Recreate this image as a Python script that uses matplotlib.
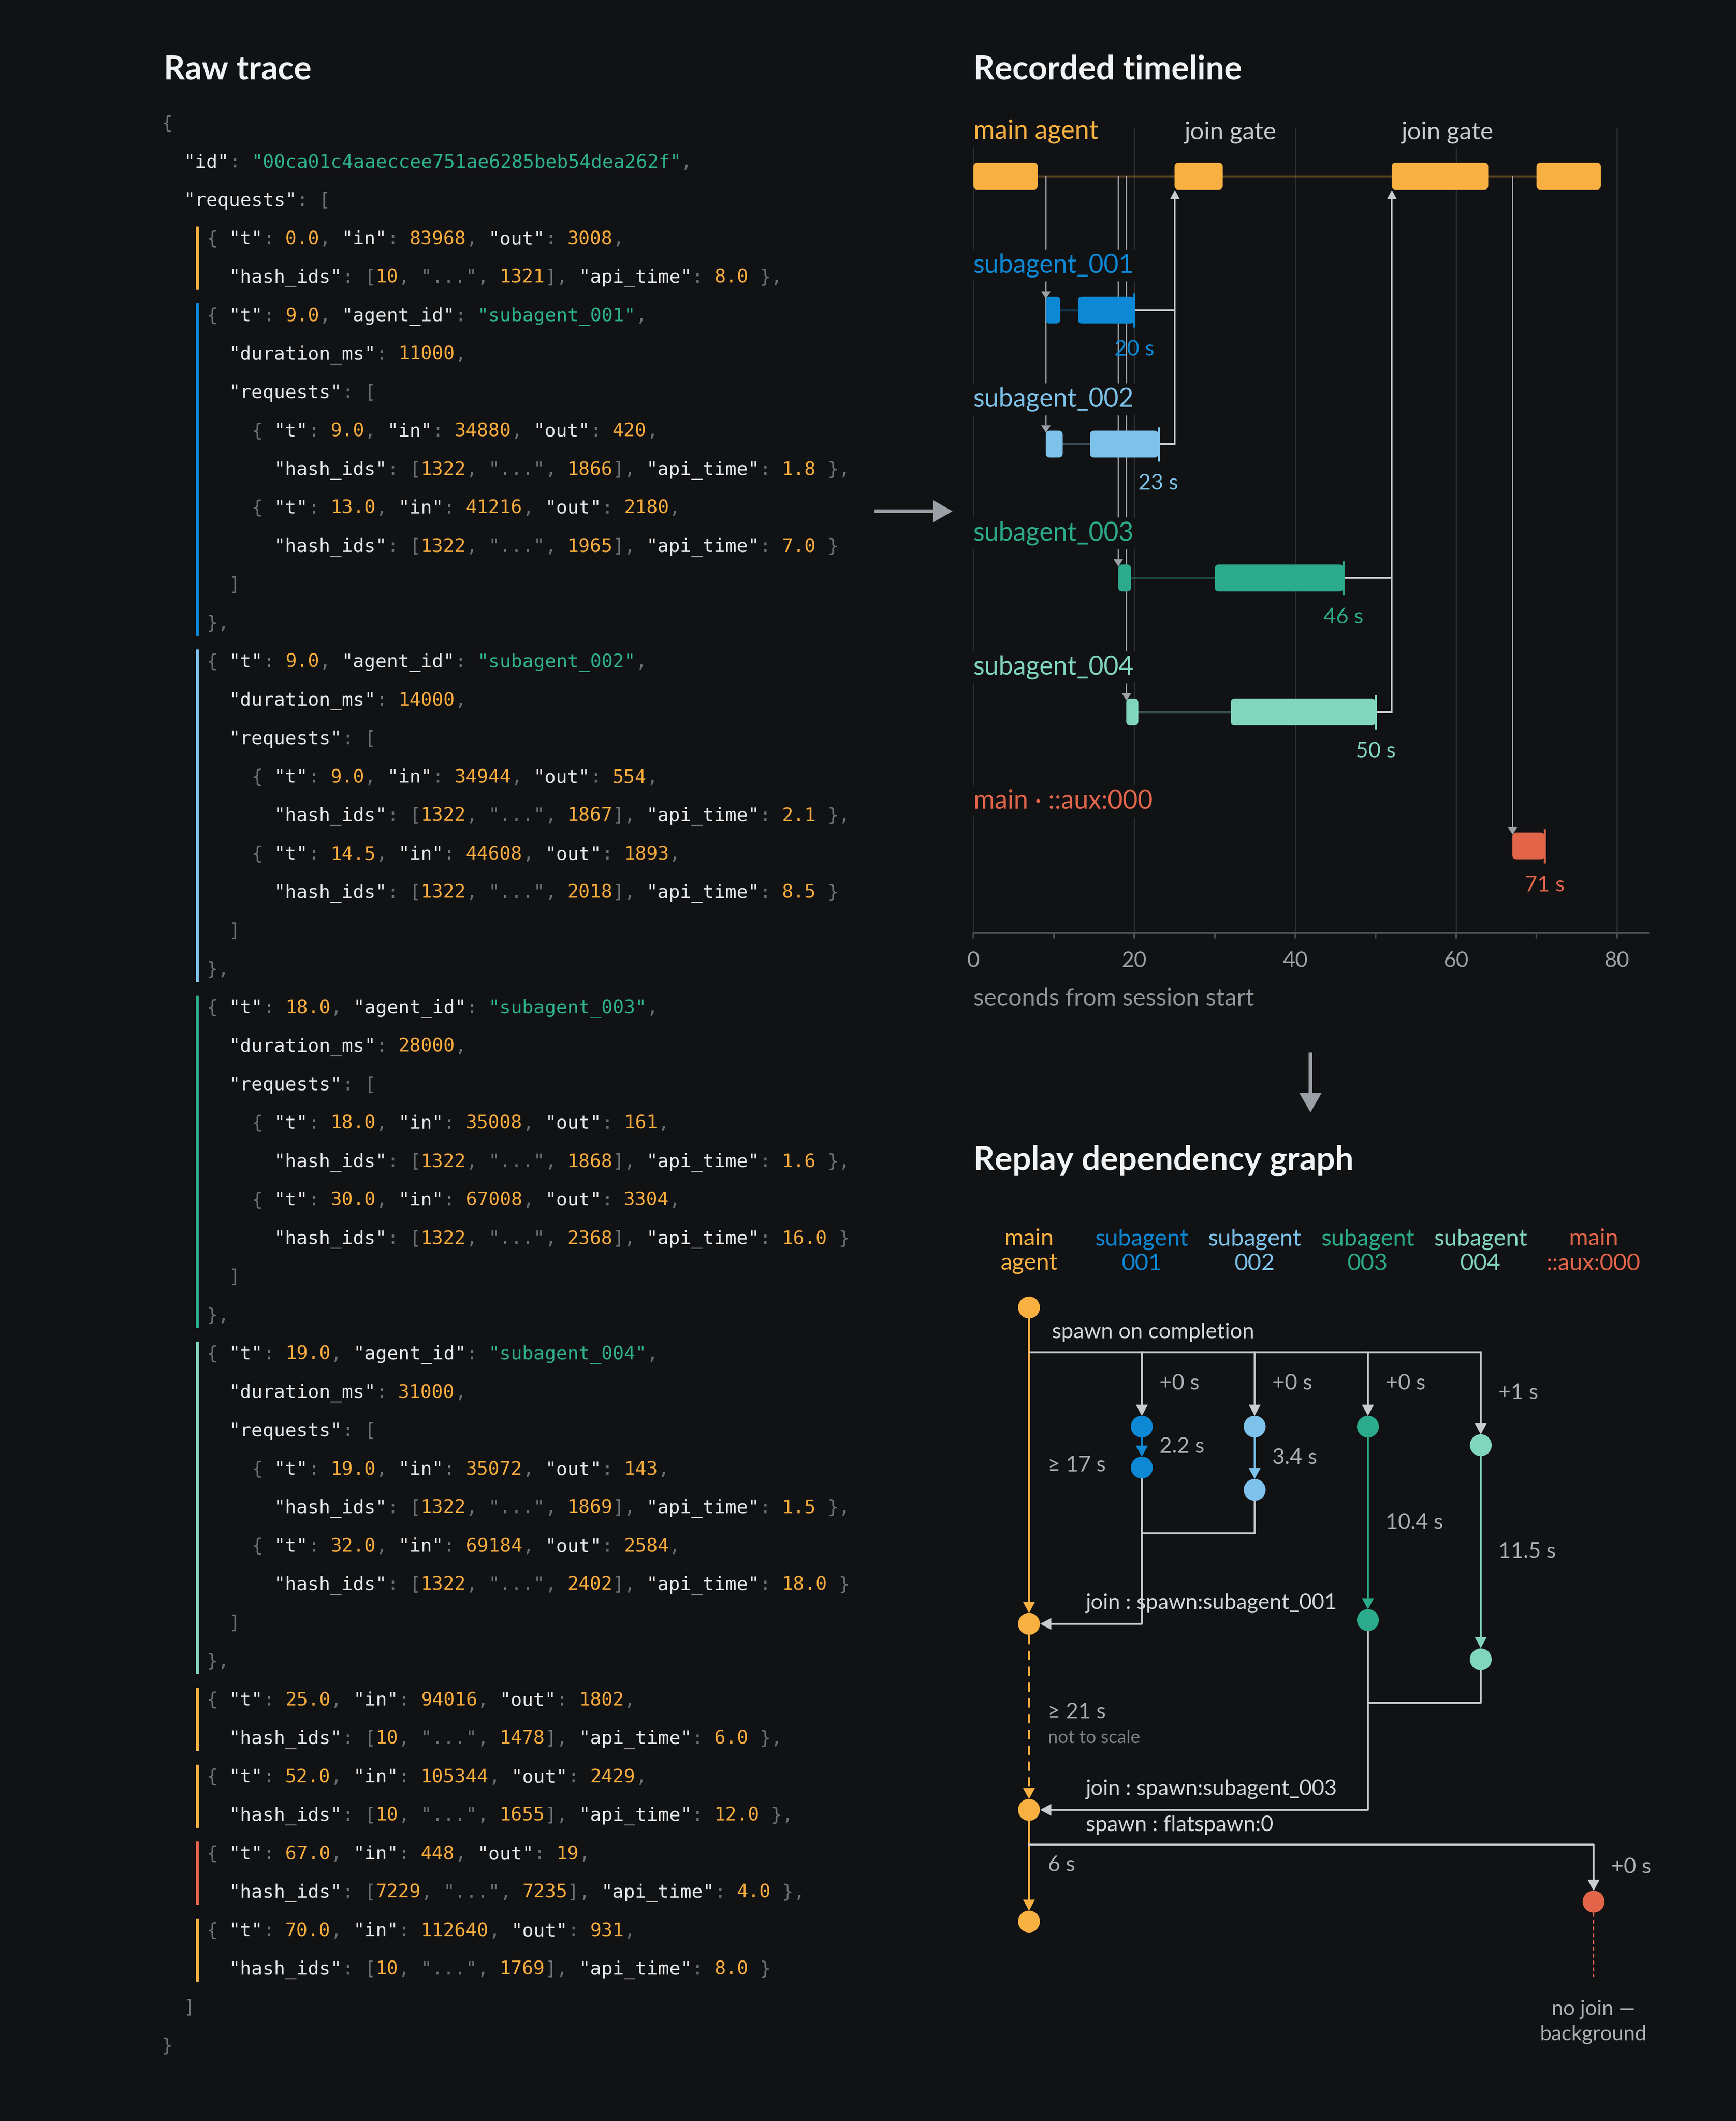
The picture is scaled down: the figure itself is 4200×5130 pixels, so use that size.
import re
import matplotlib
matplotlib.use("Agg")
import matplotlib.pyplot as plt
from matplotlib.patches import FancyBboxPatch, Rectangle

plt.rcParams['font.family'] = ['Lato', 'DejaVu Sans']

# ------------------------------------------------------------------ data
TRACE_ID = "00ca01c4aaeccee751ae6285beb54dea262f"

main_t = [0.0, 25.0, 52.0, 70.0]
main_in = [83968, 94016, 105344, 112640]
main_out = [3008, 1802, 2429, 931]
main_hash = [[10, 1321], [10, 1478], [10, 1655], [10, 1769]]
main_api = [8.0, 6.0, 12.0, 8.0]

sub_ids = ["subagent_001", "subagent_002", "subagent_003", "subagent_004"]
sub_t = [9.0, 9.0, 18.0, 19.0]
sub_duration_ms = [11000, 14000, 28000, 31000]
sub_req_t = [[9.0, 13.0], [9.0, 14.5], [18.0, 30.0], [19.0, 32.0]]
sub_req_in = [[34880, 41216], [34944, 44608], [35008, 67008], [35072, 69184]]
sub_req_out = [[420, 2180], [554, 1893], [161, 3304], [143, 2584]]
sub_req_hash = [[[1322, 1866], [1322, 1965]], [[1322, 1867], [1322, 2018]],
                [[1322, 1868], [1322, 2368]], [[1322, 1869], [1322, 2402]]]
sub_api = [[1.8, 7.0], [2.1, 8.5], [1.6, 16.0], [1.5, 18.0]]

aux_label = "main · ::aux:000"
aux_t = 67.0
aux_in = 448
aux_out = 19
aux_hash = [7229, 7235]
aux_api = 4.0

trace_order = [("main", 0), ("sub", 0), ("sub", 1), ("sub", 2), ("sub", 3),
               ("main", 1), ("main", 2), ("aux", 0), ("main", 3)]

join_gate_req = [1, 2]
join_groups = [[0, 1], [2, 3]]

timeline_ticks = [0, 20, 40, 60, 80]
timeline_minor = [10, 30, 50, 70]

graph_headers = [("main", "agent"), ("subagent", "001"), ("subagent", "002"),
                 ("subagent", "003"), ("subagent", "004"), ("main", "::aux:000")]
spawn_offsets = [0, 0, 0, 1]
sub_gaps = [2.2, 3.4, 10.4, 11.5]
main_gaps = [17, 21, 6]
main_gap_labels = ["≥ 17 s", "≥ 21 s", "6 s"]
aux_offset = 0

# ------------------------------------------------------------------ style
W, H, DPI = 4200, 5130, 300
PT = 72.0 / DPI

BG = '#111214'
C_MAIN = '#f8b041'
SUB_COLORS = ['#0c88d4', '#7cc2ea', '#2bab8b', '#80d5bd']
C_AUX = '#e2654a'
LANE_COLORS = [C_MAIN] + SUB_COLORS + [C_AUX]
TITLE_C = '#f1f2f3'
GRID_C = '#2b2e32'
AXIS_C = '#4a4e54'
TICK_C = '#9ba1a7'
SPAWN_C = '#9ca1a7'
JOIN_C = '#c8ccd1'
LABEL_C = '#d4d7da'
EDGE_C = '#a9aeb4'
DIM_C = '#7c8288'

K_KEY, K_PUNCT, K_NUM, K_STR = '#e4e6e8', '#6b7077', '#f6ab3c', '#2db08e'


def lw(px):
    return px * PT


def tri(direction, w, l):
    hw = (w / 2.0) / l
    if direction == 'down':
        v = [(0, 0), (-hw, 1), (hw, 1), (0, 0)]
    elif direction == 'up':
        v = [(0, 0), (-hw, -1), (hw, -1), (0, 0)]
    elif direction == 'left':
        v = [(0, 0), (1, -hw), (1, hw), (0, 0)]
    else:
        v = [(0, 0), (-1, -hw), (-1, hw), (0, 0)]
    return v


def head(axis, x, y, direction, w, l, color, z=6):
    axis.plot([x], [y], marker=tri(direction, w, l), ms=2 * l * PT, color=color,
              mew=0, ls='none', zorder=z, clip_on=False)


fig = plt.figure(figsize=(W / DPI, H / DPI), dpi=DPI, facecolor=BG)
ax = fig.add_axes([0, 0, 1, 1])
ax.set_xlim(0, W)
ax.set_ylim(H, 0)
ax.axis('off')
ax.set_facecolor('none')

# ------------------------------------------------------------------ titles
TITLE_KW = dict(fontsize=19.2, fontweight='bold', color=TITLE_C, ha='left', va='baseline')
ax.text(396, 192, "Raw trace", **TITLE_KW)
ax.text(2355, 192, "Recorded timeline", **TITLE_KW)
ax.text(2355, 2829, "Replay dependency graph", **TITLE_KW)

# ------------------------------------------------------------------ raw trace
lines = []
groups = []
lines.append((0, "{"))
lines.append((2, f'"id": "{TRACE_ID}",'))
lines.append((2, '"requests": ['))
for n, (kind, i) in enumerate(trace_order):
    last = n == len(trace_order) - 1
    start = len(lines)
    if kind in ("main", "aux"):
        if kind == "main":
            t, tin, tout, hs, api, col = main_t[i], main_in[i], main_out[i], main_hash[i], main_api[i], C_MAIN
        else:
            t, tin, tout, hs, api, col = aux_t, aux_in, aux_out, aux_hash, aux_api, C_AUX
        lines.append((4, f'{{ "t": {t:.1f}, "in": {tin}, "out": {tout},'))
        lines.append((6, f'"hash_ids": [{hs[0]}, "...", {hs[1]}], "api_time": {api:.1f} ' + ("}" if last else "},")))
    else:
        col = SUB_COLORS[i]
        lines.append((4, f'{{ "t": {sub_t[i]:.1f}, "agent_id": "{sub_ids[i]}",'))
        lines.append((6, f'"duration_ms": {sub_duration_ms[i]},'))
        lines.append((6, '"requests": ['))
        for j in range(len(sub_req_t[i])):
            end = "}," if j < len(sub_req_t[i]) - 1 else "}"
            lines.append((8, f'{{ "t": {sub_req_t[i][j]:.1f}, "in": {sub_req_in[i][j]}, "out": {sub_req_out[i][j]},'))
            hs = sub_req_hash[i][j]
            lines.append((10, f'"hash_ids": [{hs[0]}, "...", {hs[1]}], "api_time": {sub_api[i][j]:.1f} {end}'))
        lines.append((6, "]"))
        lines.append((4, "}" if last else "},"))
    groups.append((start, len(lines) - 1, col))
lines.append((2, "]"))
lines.append((0, "}"))

CODE_X0, CW, LINE0, LH, BASE_OFF = 390, 27.3, 296, 93.0, 16
TOKEN_RE = re.compile(r'"[^"]*"|\d+(?:\.\d+)?|[{}\[\]:,]|\S')

for li, (ind, txt) in enumerate(lines):
    yb = LINE0 + li * LH + BASE_OFF
    for m in TOKEN_RE.finditer(txt):
        tok = m.group(0)
        if tok.startswith('"'):
            if txt[m.end():].lstrip().startswith(':'):
                c = K_KEY
            elif tok == '"..."':
                c = K_PUNCT
            else:
                c = K_STR
        elif tok[0].isdigit():
            c = K_NUM
        else:
            c = K_PUNCT
        ax.text(CODE_X0 + (ind + m.start()) * CW, yb, tok, color=c, fontsize=10.9,
                family='DejaVu Sans Mono', ha='left', va='baseline')

for (a, b, col) in groups:
    ya = LINE0 + a * LH - 27
    yb = LINE0 + b * LH + 33
    ax.add_patch(Rectangle((474, ya), 7, yb - ya, color=col, lw=0))

# arrows between panels
ax.plot([2115, 2260], [1236, 1236], color='#9aa0a6', lw=lw(9), solid_capstyle='butt')
head(ax, 2304, 1236, 'right', 54, 47, '#9aa0a6')
ax.plot([3170, 3170], [2545, 2650], color='#9aa0a6', lw=lw(9), solid_capstyle='butt')
head(ax, 3170, 2690, 'down', 54, 47, '#9aa0a6')

# ------------------------------------------------------------------ timeline
PX_S = 19.4625
TL_L, TL_R, TL_T, TL_B = 2355, 3988, 310, 2256
ROW_PX, ROW0 = 324.0, 426.0
tax = fig.add_axes([TL_L / W, 1 - TL_B / H, (TL_R - TL_L) / W, (TL_B - TL_T) / H])
tax.set_facecolor('none')
tax.set_xlim(0, (TL_R - TL_L) / PX_S)
tax.set_ylim((TL_B - ROW0) / ROW_PX, (TL_T - ROW0) / ROW_PX)
for s in ('top', 'right', 'left'):
    tax.spines[s].set_visible(False)
tax.spines['bottom'].set_color(AXIS_C)
tax.spines['bottom'].set_linewidth(lw(4))
tax.set_xticks(timeline_ticks)
tax.set_xticks(timeline_minor, minor=True)
tax.tick_params(axis='x', which='both', direction='out', length=14 * PT, width=lw(4),
                color=AXIS_C, labelcolor=TICK_C, labelsize=12.5, pad=7.4)
tax.tick_params(axis='y', left=False, labelleft=False)
tax.set_axisbelow(True)
tax.grid(True, axis='x', which='major', color=GRID_C, lw=lw(3))
tax.set_xlabel("seconds from session start", loc='left', color='#8e949a', fontsize=14, labelpad=9.8)

BAR_H = 65.0 / ROW_PX
R_PX = 10.0
ASPECT = PX_S / ROW_PX
LBL_BOX = dict(boxstyle='round,pad=0.15,rounding_size=0.25', fc=BG, ec='none')


def bar(t0, dur, row, color):
    p = FancyBboxPatch((t0, row - BAR_H / 2), dur, BAR_H,
                       boxstyle=f"round,pad=0,rounding_size={R_PX / PX_S}",
                       mutation_aspect=ASPECT, fc=color, ec='none', zorder=3)
    tax.add_patch(p)


def rows_of(px):
    return px / ROW_PX


# main agent row
main_end = main_t[-1] + main_api[-1]
tax.plot([0, main_end], [0, 0], color=C_MAIN, alpha=0.33, lw=lw(5), zorder=1, solid_capstyle='butt')
for i in range(len(main_t)):
    bar(main_t[i], main_api[i], 0, C_MAIN)
tax.text(0, -rows_of(108), "main agent", color=C_MAIN, fontsize=15, ha='left', va='center',
         bbox=LBL_BOX, zorder=5)
for gi in join_gate_req:
    tax.text(main_t[gi] + 1.2, -rows_of(106), "join gate", color=JOIN_C, fontsize=14.2,
             ha='left', va='center', bbox=LBL_BOX, zorder=5)

SP_W, SP_L = 23, 18
for k in range(len(sub_ids)):
    row = k + 1
    col = SUB_COLORS[k]
    end = sub_t[k] + sub_duration_ms[k] / 1000.0
    tax.plot([sub_req_t[k][0], end], [row, row], color=col, alpha=0.33, lw=lw(5), zorder=1,
             solid_capstyle='butt')
    for j in range(len(sub_req_t[k])):
        bar(sub_req_t[k][j], sub_api[k][j], row, col)
    tax.plot([end, end], [row - rows_of(41.5), row + rows_of(41.5)], color=col, lw=lw(5),
             zorder=3.5, solid_capstyle='butt')
    tax.text(0, row - rows_of(108), sub_ids[k], color=col, fontsize=15, ha='left', va='center',
             bbox=LBL_BOX, zorder=5)
    tax.text(end, row + rows_of(95), f"{end:.0f} s", color=col, fontsize=12.5, ha='center',
             va='center', zorder=5)
    # spawn connector
    top = row - BAR_H / 2
    tax.plot([sub_t[k], sub_t[k]], [0, top - rows_of(SP_L - 2)], color=SPAWN_C, lw=lw(3), zorder=1.5)
    head(tax, sub_t[k], top + rows_of(4), 'down', SP_W, SP_L, SPAWN_C, z=4)

# aux row
arow = 5
aend = aux_t + aux_api
bar(aux_t, aux_api, arow, C_AUX)
tax.plot([aend, aend], [arow - rows_of(41.5), arow + rows_of(41.5)], color=C_AUX, lw=lw(5),
         zorder=3.5, solid_capstyle='butt')
tax.text(0, arow - rows_of(108), aux_label, color=C_AUX, fontsize=15, ha='left', va='center',
         bbox=LBL_BOX, zorder=5)
tax.text(aend, arow + rows_of(95), f"{aend:.0f} s", color=C_AUX, fontsize=12.5, ha='center',
         va='center', zorder=5)
atop = arow - BAR_H / 2
tax.plot([aux_t, aux_t], [0, atop - rows_of(SP_L - 2)], color=SPAWN_C, lw=lw(3), zorder=1.5)
head(tax, aux_t, atop + rows_of(4), 'down', SP_W, SP_L, SPAWN_C, z=4)

# joins
JN_W, JN_L = 23, 22
for gi, grp in zip(join_gate_req, join_groups):
    jx = main_t[gi]
    for k in grp:
        end = sub_t[k] + sub_duration_ms[k] / 1000.0
        tax.plot([end, jx], [k + 1, k + 1], color=JOIN_C, lw=lw(4), zorder=1.6, solid_capstyle='butt')
    low = max(grp) + 1
    tip = BAR_H / 2
    tax.plot([jx, jx], [low, tip + rows_of(JN_L - 2)], color=JOIN_C, lw=lw(4), zorder=1.6)
    head(tax, jx, tip, 'up', JN_W, JN_L, JOIN_C, z=4)

# ------------------------------------------------------------------ replay graph
G_S = 45.0
NODE_R = 26.5
lane_x = [2489 + 273.2 * i for i in range(len(graph_headers))]
y_main0 = 3162.0
y_bus = y_main0 + 108
y_sub_a = [y_main0 + 288 + off * G_S for off in spawn_offsets]
y_sub_b = [ya + g * G_S for ya, g in zip(y_sub_a, sub_gaps)]
y_main = [y_main0]
y_main.append(y_main[0] + main_gaps[0] * G_S)
y_main.append(y_main[1] + 450)          # compressed (not to scale)
y_main.append(y_main[2] + main_gaps[2] * G_S)
y_auxbus = y_main[2] + 84
y_aux = y_main[2] + 222

for i, (l1, l2) in enumerate(graph_headers):
    ax.text(lane_x[i], 2997, l1, color=LANE_COLORS[i], fontsize=13.5, ha='center', va='center')
    ax.text(lane_x[i], 3057, l2, color=LANE_COLORS[i], fontsize=13.5, ha='center', va='center')

AW, AL = 29, 27
GL = lw(4.5)
mx = lane_x[0]

# main lane
for s in range(3):
    y0 = y_main[s] + NODE_R
    y1 = y_main[s + 1] - NODE_R
    ls = (0, (5, 3.5)) if s == 1 else '-'
    ax.plot([mx, mx], [y0, y1 - AL + 4], color=C_MAIN, lw=GL, ls=ls, zorder=2)
    head(ax, mx, y1, 'down', AW, AL, C_MAIN, z=4)
    ax.text(mx + 46, (y_main[s] + y_main[s + 1]) / 2 + (0 if s != 1 else -10),
            main_gap_labels[s], color=EDGE_C, fontsize=12.5, ha='left', va='center')
ax.text(mx + 46, y_main[1] + 276, "not to scale", color=DIM_C, fontsize=10.5, ha='left',
        va='center')
for y in y_main:
    ax.plot([mx], [y], 'o', ms=2 * NODE_R * PT, color=C_MAIN, mew=0, zorder=5)

# spawn bus
ax.plot([mx, lane_x[4]], [y_bus, y_bus], color=JOIN_C, lw=GL, zorder=2, solid_capstyle='butt')
ax.text(mx + 56, y_bus - 48, "spawn on completion", color=LABEL_C, fontsize=12.5, ha='left',
        va='center')
for k in range(4):
    x = lane_x[k + 1]
    tip = y_sub_a[k] - NODE_R
    ax.plot([x, x], [y_bus, tip - AL + 4], color=JOIN_C, lw=GL, zorder=2)
    head(ax, x, tip, 'down', AW, AL, JOIN_C, z=4)
    ax.text(x + 43, (y_bus + tip) / 2, f"+{spawn_offsets[k]} s", color=EDGE_C, fontsize=12.5,
            ha='left', va='center')
    # chain
    c = SUB_COLORS[k]
    tip2 = y_sub_b[k] - NODE_R
    ax.plot([x, x], [y_sub_a[k], tip2 - AL + 4], color=c, lw=GL, zorder=2)
    head(ax, x, tip2, 'down', AW, AL, c, z=4)
    ax.text(x + 43, (y_sub_a[k] + y_sub_b[k]) / 2, f"{sub_gaps[k]:.1f} s", color=EDGE_C,
            fontsize=12.5, ha='left', va='center')
    ax.plot([x, x], [y_sub_a[k], y_sub_b[k]], 'o', ms=2 * NODE_R * PT, color=c, mew=0, zorder=5)

# joins
for gi, grp in zip([1, 2], join_groups):
    a, b = grp
    xa, xb = lane_x[a + 1], lane_x[b + 1]
    ym = y_sub_b[b] + 105
    yj = y_main[gi]
    ax.plot([xb, xb, xa], [y_sub_b[b], ym, ym], color=JOIN_C, lw=GL, zorder=2)
    ax.plot([xa, xa, mx + NODE_R + AL - 4], [y_sub_b[a], yj, yj], color=JOIN_C, lw=GL, zorder=2)
    head(ax, mx + NODE_R, yj, 'left', AW, AL, JOIN_C, z=4)
    ax.text(mx + 138, yj - 50, f"join : spawn:{sub_ids[a]}", color=LABEL_C, fontsize=12.5,
            ha='left', va='center')

# aux spawn
axx = lane_x[5]
ax.text(mx + 138, y_main[2] + 37, "spawn : flatspawn:0", color=LABEL_C, fontsize=12.5,
        ha='left', va='center')
ax.plot([mx, axx, axx], [y_auxbus, y_auxbus, y_aux - NODE_R - AL + 4], color=JOIN_C, lw=GL, zorder=2)
head(ax, axx, y_aux - NODE_R, 'down', AW, AL, JOIN_C, z=4)
ax.text(axx + 43, (y_auxbus + y_aux - NODE_R) / 2, f"+{aux_offset} s", color=EDGE_C,
        fontsize=12.5, ha='left', va='center')
ax.plot([axx, axx], [y_aux + NODE_R, y_aux + 182], color=C_AUX, lw=lw(3), ls=(0, (3.2, 2.3)), zorder=2)
ax.plot([axx], [y_aux], 'o', ms=2 * NODE_R * PT, color=C_AUX, mew=0, zorder=5)
ax.text(axx, y_aux + 261, "no join —", color=EDGE_C, fontsize=12, ha='center', va='center')
ax.text(axx, y_aux + 322, "background", color=EDGE_C, fontsize=12, ha='center', va='center')

fig.savefig("out.png", dpi=DPI, facecolor=BG)
